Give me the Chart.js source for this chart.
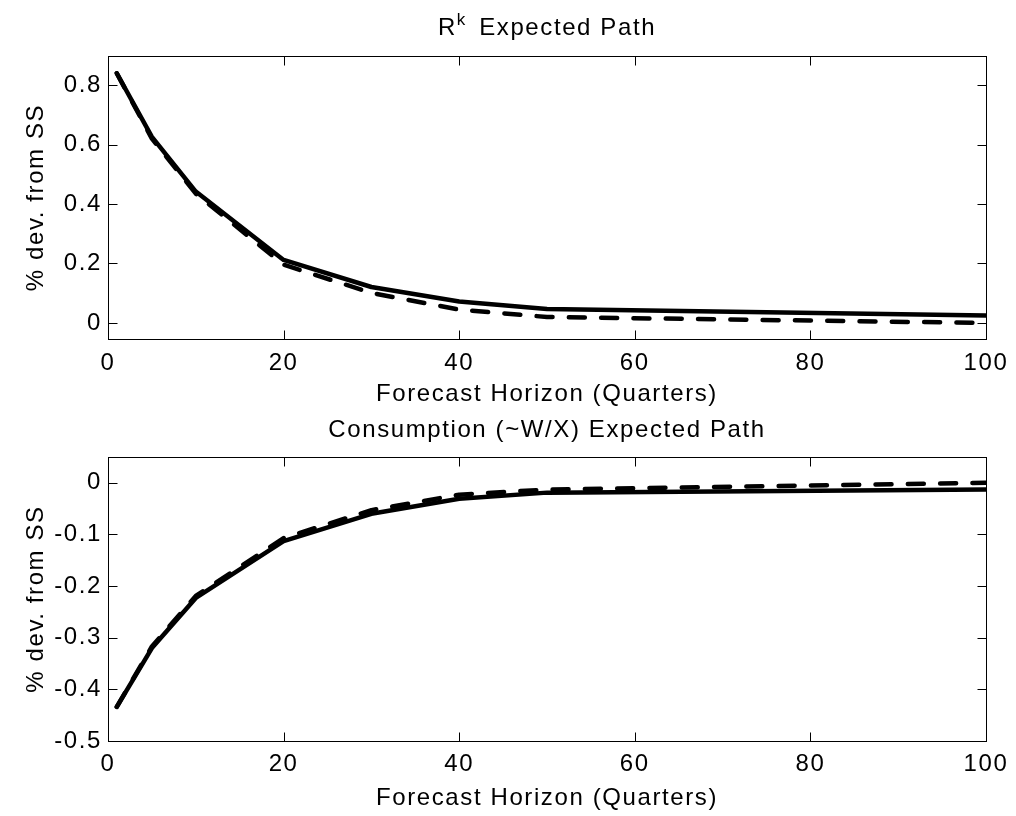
<!DOCTYPE html>
<html>
<head>
<meta charset="utf-8">
<title>Expected Path</title>
<script src="https://cdn.jsdelivr.net/npm/chart.js@4.4.1/dist/chart.umd.min.js"></script>
<style>
  body { margin: 0; background: #fff; }
  canvas { position: absolute; left: 0; }
  #topChart { top: 0; }
  #bottomChart { top: 408px; }
</style>
</head>
<body>
<canvas id="topChart" width="1016" height="408"></canvas>
<canvas id="bottomChart" width="1016" height="408"></canvas>
<script>
// forecast horizon (quarters)
var horizon = [1, 5, 10, 20, 30, 40, 50, 100];

// R^k expected path
var rkSolid  = [0.84, 0.626, 0.442, 0.212, 0.121, 0.072, 0.047, 0.025];
var rkDashed = [0.84, 0.62, 0.435, 0.196, 0.101, 0.045, 0.02, 0.0];

// consumption expected path
var consSolid  = [-0.434, -0.32, -0.223, -0.113, -0.06, -0.031, -0.019, -0.013];
var consDashed = [-0.434, -0.317, -0.219, -0.107, -0.053, -0.023, -0.013, 0.0];

var xTicks = [0, 20, 40, 60, 80, 100];
var rkTicks = [0, 0.2, 0.4, 0.6, 0.8];
var consTicks = [-0.5, -0.4, -0.3, -0.2, -0.1, 0];

var FONT = '"Liberation Sans", Arial, Helvetica, sans-serif';
var SPACING = '1.6px';

// box around the axes, inward ticks on all sides, and the title
var matlabAxes = {
    id: 'matlabAxes',
    beforeDraw: function(chart) {
        chart.ctx.letterSpacing = SPACING;
    },
    afterDraw: function(chart, args, opts) {
        var ctx = chart.ctx;
        var a = chart.chartArea;
        var xs = chart.scales.x, ys = chart.scales.y;
        var L = Math.round(a.left) + 0.5, R = Math.round(a.right) + 0.5;
        var T = Math.round(a.top) + 0.5, B = Math.round(a.bottom) + 0.5;
        var len = 9;
        ctx.save();
        ctx.strokeStyle = '#000';
        ctx.lineWidth = 1;
        ctx.beginPath();
        xs.ticks.forEach(function(t) {
            var px = Math.round(xs.getPixelForValue(t.value)) + 0.5;
            ctx.moveTo(px, B); ctx.lineTo(px, B - len);
            ctx.moveTo(px, T); ctx.lineTo(px, T + len);
        });
        ys.ticks.forEach(function(t) {
            var py = Math.round(ys.getPixelForValue(t.value)) + 0.5;
            ctx.moveTo(L, py); ctx.lineTo(L + len, py);
            ctx.moveTo(R, py); ctx.lineTo(R - len, py);
        });
        ctx.stroke();
        ctx.strokeRect(L, T, R - L, B - T);

        // title, with an optional superscript piece
        ctx.fillStyle = '#000';
        ctx.textBaseline = 'alphabetic';
        ctx.textAlign = 'left';
        ctx.letterSpacing = SPACING;
        var parts = opts.title;
        var total = 0;
        parts.forEach(function(p) {
            ctx.font = (p.sup ? 17 : 24) + 'px ' + FONT;
            p.w = ctx.measureText(p.text).width + (p.gap || 0);
            total += p.w;
        });
        var x = (a.left + a.right) / 2 - total / 2;
        parts.forEach(function(p) {
            ctx.font = (p.sup ? 17 : 24) + 'px ' + FONT;
            ctx.fillText(p.text, x, opts.titleY - (p.sup ? 10 : 0));
            x += p.w;
        });
        ctx.restore();
    }
};

function makeChart(id, solid, dashed, yTicks, yMin, yMax, cfg) {
    var ctx = document.getElementById(id).getContext('2d');
    function pts(arr) {
        return horizon.map(function(h, i) { return { x: h, y: arr[i] }; });
    }
    var tickFont = { family: FONT, size: 24 };
    return new Chart(ctx, {
        type: 'line',
        data: {
            datasets: [{
                data: pts(solid),
                borderColor: '#000',
                borderWidth: 4.5,
                borderCapStyle: 'round',
                borderJoinStyle: 'round',
                pointRadius: 0,
                tension: 0,
                clip: 0
            }, {
                data: pts(dashed),
                borderColor: '#000',
                borderWidth: 4.5,
                borderDash: [16, 16.3],
                borderCapStyle: 'round',
                borderJoinStyle: 'round',
                pointRadius: 0,
                tension: 0,
                clip: 0
            }]
        },
        options: {
            responsive: false,
            animation: false,
            devicePixelRatio: 1,
            layout: { padding: { left: 0, right: 30, top: cfg.top, bottom: 0 } },
            plugins: {
                legend: { display: false },
                tooltip: { enabled: false },
                matlabAxes: { title: cfg.title, titleY: cfg.titleY }
            },
            scales: {
                x: {
                    type: 'linear',
                    min: 0,
                    max: 100,
                    grid: { display: false, drawTicks: false },
                    border: { display: false },
                    afterBuildTicks: function(s) {
                        s.ticks = xTicks.map(function(v) { return { value: v }; });
                    },
                    afterFit: function(s) { s.height = cfg.xHeight; },
                    ticks: {
                        color: '#000',
                        font: tickFont,
                        padding: cfg.xTickPad,
                        maxRotation: 0,
                        autoSkip: false
                    },
                    title: {
                        display: true,
                        text: 'Forecast Horizon (Quarters)',
                        color: '#000',
                        font: tickFont,
                        padding: { top: 0, bottom: cfg.xTitlePad }
                    }
                },
                y: {
                    type: 'linear',
                    min: yMin,
                    max: yMax,
                    grid: { display: false, drawTicks: false },
                    border: { display: false },
                    afterBuildTicks: function(s) {
                        s.ticks = yTicks.map(function(v) { return { value: v }; });
                    },
                    afterFit: function(s) { s.width = 108; },
                    ticks: {
                        color: '#000',
                        font: tickFont,
                        padding: 6,
                        callback: function(v) { return String(v); }
                    },
                    title: {
                        display: true,
                        text: '% dev. from SS',
                        color: '#000',
                        font: tickFont,
                        padding: { top: 22, bottom: 0 }
                    }
                }
            }
        },
        plugins: [matlabAxes]
    });
}

makeChart('topChart', rkSolid, rkDashed, rkTicks, -0.054, 0.898, {
    top: 56, xHeight: 69, xTickPad: 10, xTitlePad: -1, titleY: 35,
    title: [{ text: 'R' }, { text: 'k', sup: true, gap: 4 }, { text: ' Expected Path' }]
});

makeChart('bottomChart', consSolid, consDashed, consTicks, -0.5, 0.05, {
    top: 49, xHeight: 75, xTickPad: 9, xTitlePad: 3.6, titleY: 29,
    title: [{ text: 'Consumption (~W/X) Expected Path' }]
});
</script>
</body>
</html>
